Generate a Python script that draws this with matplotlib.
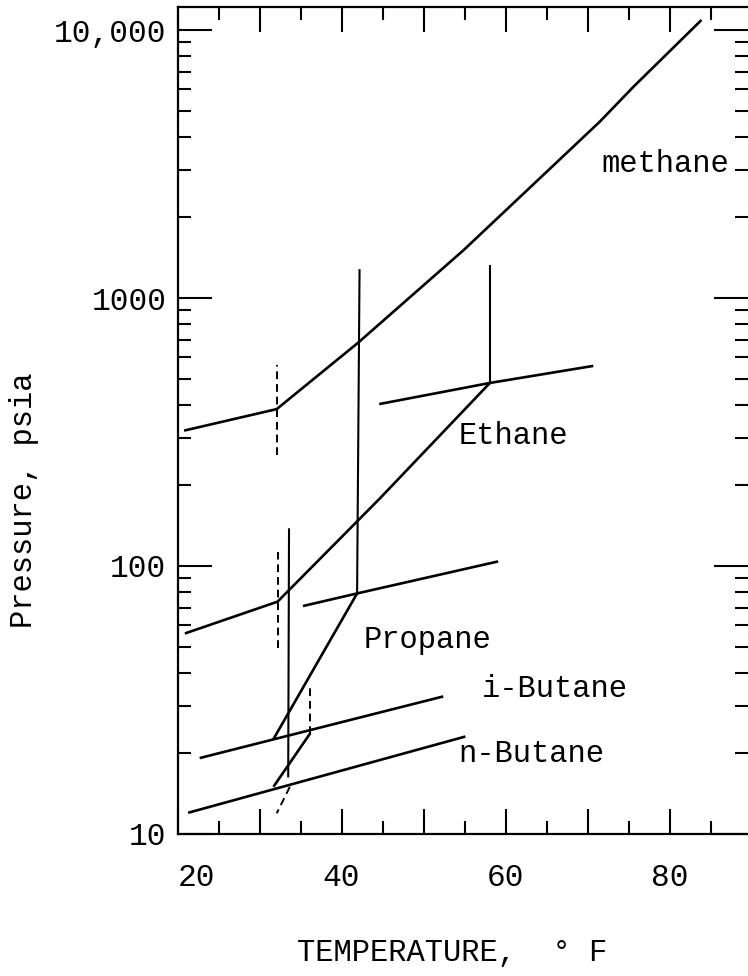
import matplotlib
matplotlib.use("Agg")
import matplotlib.pyplot as plt
from matplotlib.ticker import FixedLocator, FuncFormatter, LogLocator, NullFormatter

plt.rcParams['font.family'] = ['Liberation Mono', 'DejaVu Sans Mono']

# hydrate curves, temperature in F and pressure in psia
methane_t = [20.8, 32.1, 42.0, 54.9, 71.5, 75.6, 83.9]
methane_p = [320, 385, 680, 1510, 4550, 6140, 10900]

ethane_t = [20.9, 32.2, 44.7, 58.1]
ethane_p = [56, 73.6, 179, 482]
ethane_upper_t = [44.6, 58.1, 70.7]
ethane_upper_p = [402, 482, 558]
ethane_vert_t = [58.1, 58.1]
ethane_vert_p = [482, 1315]

propane_t = [31.7, 41.9]
propane_p = [22.6, 79]
propane_upper_t = [35.3, 41.9, 59.1]
propane_upper_p = [70.9, 79, 104]
propane_vert_t = [41.9, 42.2]
propane_vert_p = [79, 1270]

ibutane_t = [22.7, 52.4]
ibutane_p = [19.2, 32.6]
ibutane_diag_t = [31.7, 36.2]
ibutane_diag_p = [15.0, 23.8]

nbutane_t = [21.3, 55.1]
nbutane_p = [12.0, 23.1]

other_vert_t = [33.6, 33.5]
other_vert_p = [137, 16.4]

# dashed lines
methane_dash_t = [32.1, 32.1]
methane_dash_p = [259, 562]
ethane_dash_t = [32.2, 32.2]
ethane_dash_p = [49.3, 113]
ibutane_dash_t = [36.2, 36.2]
ibutane_dash_p = [23.6, 35.4]
nbutane_dash_t = [33.7, 32.1]
nbutane_dash_p = [15.0, 11.95]

names = ["methane", "Ethane", "Propane", "i-Butane", "n-Butane"]
name_t = [71.65, 54.24, 42.66, 57.1, 54.24]
name_p = [2950, 285, 49.4, 32.5, 18.6]

y_ticks = [10, 100, 1000, 10000]
y_labels = ["10", "100", "1000", "10,000"]
x_major = [20, 30, 40, 50, 60, 70, 80]
x_minor = [25, 35, 45, 55, 65, 75, 85]
x_labels = {20: "20", 40: "40", 60: "60", 80: "80"}

fig = plt.figure(figsize=(7.48, 9.76), dpi=100)
ax = fig.add_axes([0.2373, 0.1455, 0.7627, 0.8473])
ax.set_yscale("log")
ax.set_xlim(20, 89.57)
ax.set_ylim(10, 12183)

solid = dict(color="black", lw=1.9, solid_capstyle="butt")
thin = dict(color="black", lw=1.5)
dash = dict(color="black", lw=1.4, linestyle=(0, (4, 2.5)))

ax.plot(methane_t, methane_p, **solid)
ax.plot(ethane_t, ethane_p, **solid)
ax.plot(ethane_upper_t, ethane_upper_p, **solid)
ax.plot(ethane_vert_t, ethane_vert_p, **thin)
ax.plot(propane_t, propane_p, **solid)
ax.plot(propane_upper_t, propane_upper_p, **solid)
ax.plot(propane_vert_t, propane_vert_p, **thin)
ax.plot(ibutane_t, ibutane_p, **solid)
ax.plot(ibutane_diag_t, ibutane_diag_p, **solid)
ax.plot(nbutane_t, nbutane_p, **solid)
ax.plot(other_vert_t, other_vert_p, **thin)

ax.plot(methane_dash_t, methane_dash_p, **dash)
ax.plot(ethane_dash_t, ethane_dash_p, **dash)
ax.plot(ibutane_dash_t, ibutane_dash_p, **dash)
ax.plot(nbutane_dash_t, nbutane_dash_p, **dash)

for name, t, p in zip(names, name_t, name_p):
    ax.text(t, p, name, fontsize=22, ha="left", va="baseline")

# axes and ticks
ax.yaxis.set_major_locator(FixedLocator(y_ticks))
ax.set_yticklabels(y_labels)
ax.yaxis.set_minor_locator(LogLocator(base=10, subs=range(2, 10)))
ax.yaxis.set_minor_formatter(NullFormatter())
ax.xaxis.set_major_locator(FixedLocator(x_major))
ax.xaxis.set_minor_locator(FixedLocator(x_minor))
ax.xaxis.set_major_formatter(FuncFormatter(lambda v, pos: x_labels.get(int(round(v)), "")))

ax.tick_params(axis="both", which="both", direction="in", top=True, right=True,
               width=1.5, labelsize=22.5, colors="black")
ax.tick_params(axis="x", which="major", length=18, pad=21)
ax.tick_params(axis="x", which="minor", length=9.5)
ax.tick_params(axis="y", which="major", length=24.5, pad=8)
ax.tick_params(axis="y", which="minor", length=9.5)
ax.get_xticklabels()[0].set_horizontalalignment("left")

for side in ["left", "top", "bottom"]:
    ax.spines[side].set_linewidth(1.6)
ax.spines["right"].set_visible(False)

fig.text(24 / 748, 1 - 500 / 976, "Pressure, psia", rotation=90, fontsize=22,
         ha="center", va="center")
fig.text(452 / 748, 1 - 953 / 976, "TEMPERATURE,  ° F", fontsize=22,
         ha="center", va="center")

fig.savefig("out.png", dpi=100)
